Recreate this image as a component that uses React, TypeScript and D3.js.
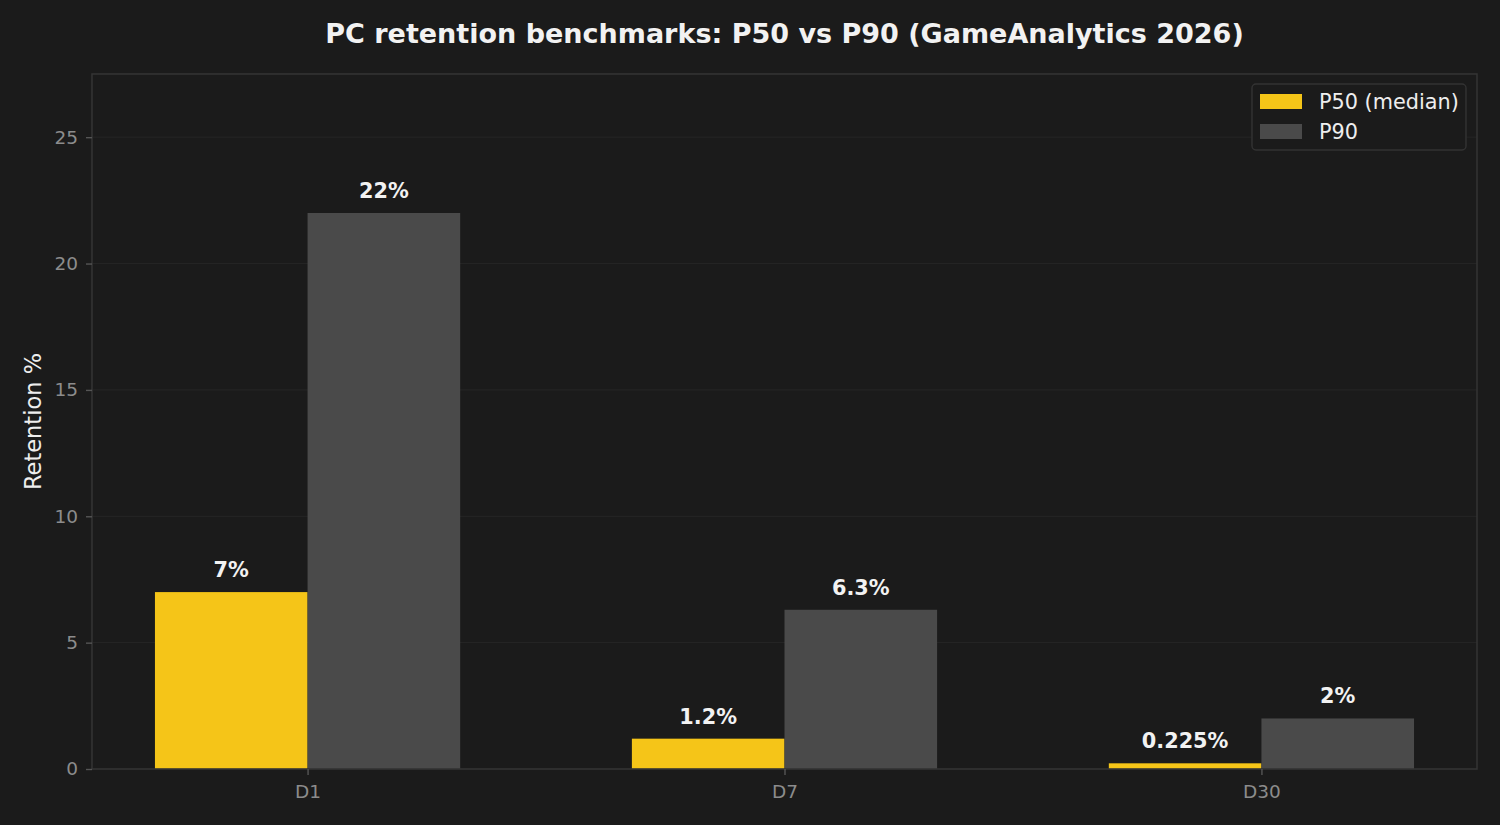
import React, { useEffect, useRef } from "react"
import * as d3 from "d3"

const categories = ["D1", "D7", "D30"]
const p50Values = [7, 1.2, 0.225]
const p90Values = [22, 6.3, 2]
const yTicks = [0, 5, 10, 15, 20, 25]
const seriesNames = ["P50 (median)", "P90"]

const W = 1500
const H = 825
const BG = "#1b1b1b"
const YELLOW = "#f5c518"
const GREY = "#4a4a4a"
const FONT = "'DejaVu Sans', sans-serif"

export default function App() {
  const svgRef = useRef<SVGSVGElement>(null)

  useEffect(() => {
    document.body.style.margin = "0"
    document.body.style.background = BG
    document.documentElement.style.background = BG
    document.body.style.overflow = "hidden"
  }, [])

  useEffect(() => {
    if (!svgRef.current) return
    const svg = d3.select(svgRef.current)
    svg.selectAll("*").remove()

    const margin = { top: 74, right: 23, bottom: 56, left: 92 }
    const width = W - margin.left - margin.right
    const height = H - margin.top - margin.bottom
    const barW = 0.32

    svg.append("rect").attr("width", W).attr("height", H).attr("fill", BG)

    const g = svg.append("g").attr("transform", `translate(${margin.left},${margin.top})`)

    const x = d3.scaleLinear()
      .domain([-barW - 0.132, categories.length - 1 + barW + 0.132])
      .range([0, width])
    const y = d3.scaleLinear().domain([0, 27.5]).range([height, 0])

    // grid
    g.selectAll(".grid")
      .data(yTicks)
      .enter().append("line")
      .attr("x1", 0)
      .attr("x2", width)
      .attr("y1", d => y(d))
      .attr("y2", d => y(d))
      .attr("stroke", "#262626")
      .attr("stroke-width", 1)

    const series = [
      { values: p50Values, color: YELLOW, offset: -barW },
      { values: p90Values, color: GREY, offset: 0 },
    ]

    series.forEach(s => {
      g.selectAll(null)
        .data(s.values)
        .enter().append("rect")
        .attr("x", (_, i) => x(i + s.offset))
        .attr("width", x(barW) - x(0))
        .attr("y", d => y(d))
        .attr("height", d => height - y(d))
        .attr("fill", s.color)

      g.selectAll(null)
        .data(s.values)
        .enter().append("text")
        .attr("x", (_, i) => x(i + s.offset + barW / 2))
        .attr("y", d => y(d) - 15)
        .attr("text-anchor", "middle")
        .attr("fill", "#f2f2f2")
        .style("font-family", FONT)
        .style("font-weight", "bold")
        .style("font-size", "20.8px")
        .text(d => `${d}%`)
    })

    // spines
    g.append("rect")
      .attr("x", 0)
      .attr("y", 0)
      .attr("width", width)
      .attr("height", height)
      .attr("fill", "none")
      .attr("stroke", "#333333")
      .attr("stroke-width", 1.6)

    // y axis
    const yAxis = g.append("g")
      .call(d3.axisLeft(y).tickValues(yTicks).tickSize(6).tickPadding(8))
    yAxis.select(".domain").remove()
    yAxis.selectAll("line").attr("stroke", "#555555").attr("stroke-width", 1.4)
    yAxis.selectAll("text")
      .attr("fill", "#8c8c8c")
      .style("font-family", FONT)
      .style("font-size", "18.5px")

    // x axis
    const xAxis = g.append("g")
      .attr("transform", `translate(0,${height})`)
      .call(d3.axisBottom(x)
        .tickValues(categories.map((_, i) => i))
        .tickFormat((d) => categories[d as number])
        .tickSize(6)
        .tickPadding(10))
    xAxis.select(".domain").remove()
    xAxis.selectAll("line").attr("stroke", "#555555").attr("stroke-width", 1.4)
    xAxis.selectAll("text")
      .attr("fill", "#8c8c8c")
      .style("font-family", FONT)
      .style("font-size", "18.5px")

    // y label
    svg.append("text")
      .attr("transform", `translate(41,${margin.top + height / 2}) rotate(-90)`)
      .attr("text-anchor", "middle")
      .attr("fill", "#eeeeee")
      .style("font-family", FONT)
      .style("font-size", "22.5px")
      .text("Retention %")

    // title
    svg.append("text")
      .attr("x", margin.left + width / 2)
      .attr("y", 43)
      .attr("text-anchor", "middle")
      .attr("fill", "#f2f2f2")
      .style("font-family", FONT)
      .style("font-weight", "bold")
      .style("font-size", "27px")
      .text("PC retention benchmarks: P50 vs P90 (GameAnalytics 2026)")

    // legend
    const lg = svg.append("g").attr("transform", "translate(1252,84)")
    lg.append("rect")
      .attr("width", 214)
      .attr("height", 66)
      .attr("rx", 4)
      .attr("fill", BG)
      .attr("stroke", "#333333")
      .attr("stroke-width", 1.4)
    seriesNames.forEach((name, i) => {
      lg.append("rect")
        .attr("x", 8)
        .attr("y", 10 + i * 30)
        .attr("width", 42)
        .attr("height", 15)
        .attr("fill", i === 0 ? YELLOW : GREY)
      lg.append("text")
        .attr("x", 67)
        .attr("y", 25 + i * 30)
        .attr("fill", "#eeeeee")
        .style("font-family", FONT)
        .style("font-size", "20.8px")
        .text(name)
    })
  }, [])

  return <svg ref={svgRef} width={W} height={H} style={{ display: "block" }} />
}
